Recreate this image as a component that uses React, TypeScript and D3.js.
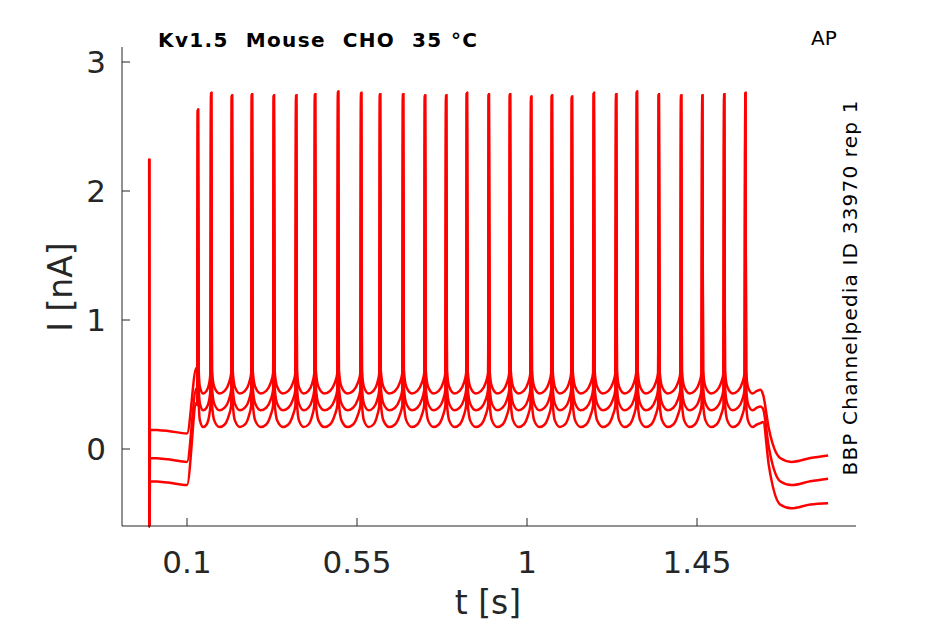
import React from "react";
import * as d3 from "d3";

const spikeTimes = [0.129,0.164,0.219,0.272,0.330,0.389,0.439,0.500,0.561,0.611,0.672,0.730,0.786,0.841,0.899,0.955,1.011,1.066,1.119,1.177,1.236,1.291,1.349,1.408,1.464,1.522,1.578];
const spikePeaks = [2.63,2.76,2.74,2.75,2.74,2.74,2.75,2.77,2.76,2.75,2.75,2.74,2.74,2.76,2.75,2.75,2.73,2.74,2.73,2.76,2.75,2.77,2.75,2.74,2.74,2.75,2.76];
const holdStart = [0.15, -0.07, -0.25];
const holdEnd = [0.12, -0.10, -0.28];
const rampTop = [0.63, 0.47, 0.36];
const cuspLevel = [0.55, 0.42, 0.30];
const troughLevel = [0.43, 0.30, 0.17];
const stepEnd = [0.42, 0.31, 0.21];
const tailMin = [-0.10, -0.28, -0.46];
const tailEnd = [-0.05, -0.23, -0.42];
const xTicks = [0.1, 0.55, 1, 1.45];
const yTicks = [0, 1, 2, 3];

function buildTrace(i: number): [number, number][] {
  const p: [number, number][] = [[0, 2.25], [0.0005, -0.6], [0.002, holdStart[i]], [0.05, holdStart[i] - 0.01], [0.1, holdEnd[i]], [0.125, rampTop[i]]];
  spikeTimes.forEach((t, k) => {
    p.push([t - 0.002, cuspLevel[i] + 0.04], [t, spikePeaks[k]], [t + 0.002, cuspLevel[i] + 0.06]);
    const next = k < spikeTimes.length - 1 ? spikeTimes[k + 1] : 1.625;
    const d = next - t;
    p.push([t + d * 0.15, troughLevel[i] + 0.05], [t + d * 0.4, troughLevel[i]], [t + d * 0.65, troughLevel[i] + 0.02], [t + d * 0.85, k < spikeTimes.length - 1 ? cuspLevel[i] - 0.04 : troughLevel[i] + 0.03]);
  });
  p.push([1.625, stepEnd[i]], [1.64, (stepEnd[i] + tailMin[i]) / 2], [1.67, tailMin[i] + 0.03], [1.70, tailMin[i]], [1.75, tailMin[i] + 0.03], [1.797, tailEnd[i]]);
  return p;
}

export default function App() {
  const x = d3.scaleLinear().domain([0.1, 1.45]).range([187, 697]);
  const y = d3.scaleLinear().domain([0, 3]).range([449, 62]);
  const line = d3.line<[number, number]>().x(d => x(d[0])).y(d => y(d[1])).curve(d3.curveMonotoneX);
  const font = "DejaVu Sans, sans-serif";
  return (
    <svg width={945} height={624} style={{ position: "absolute", left: 0, top: 0, background: "#fff" }} fontFamily={font}>
      {[0, 1, 2].map(i => (
        <path key={i} d={line(buildTrace(i)) || ""} fill="none" stroke="#ff0000" strokeWidth={2.5} />
      ))}
      <line x1={122} x2={856} y1={526} y2={526} stroke="#262626" />
      <line x1={122} x2={122} y1={47} y2={526} stroke="#262626" />
      {xTicks.map(t => (
        <g key={t}>
          <line x1={x(t)} x2={x(t)} y1={526} y2={518} stroke="#262626" />
          <text x={x(t)} y={573} textAnchor="middle" fontSize={31} fill="#262626">{t}</text>
        </g>
      ))}
      {yTicks.map(t => (
        <g key={t}>
          <line x1={122} x2={130} y1={y(t)} y2={y(t)} stroke="#262626" />
          <text x={106} y={y(t) + 11} textAnchor="end" fontSize={31} fill="#262626">{t}</text>
        </g>
      ))}
      <text x={488} y={614} textAnchor="middle" fontSize={33} fill="#262626">t [s]</text>
      <text transform="translate(72,287) rotate(-90)" textAnchor="middle" fontSize={33} fill="#262626">I [nA]</text>
      <text x={158} y={47} fontSize={20} fontWeight="bold" style={{ whiteSpace: "pre" }} textLength={319}>Kv1.5  Mouse  CHO  35 °C</text>
      <text x={811} y={45} fontSize={20}>AP</text>
      <text transform="translate(857,288) rotate(-90)" textAnchor="middle" fontSize={20} textLength={375}>BBP Channelpedia ID 33970 rep 1</text>
    </svg>
  );
}
